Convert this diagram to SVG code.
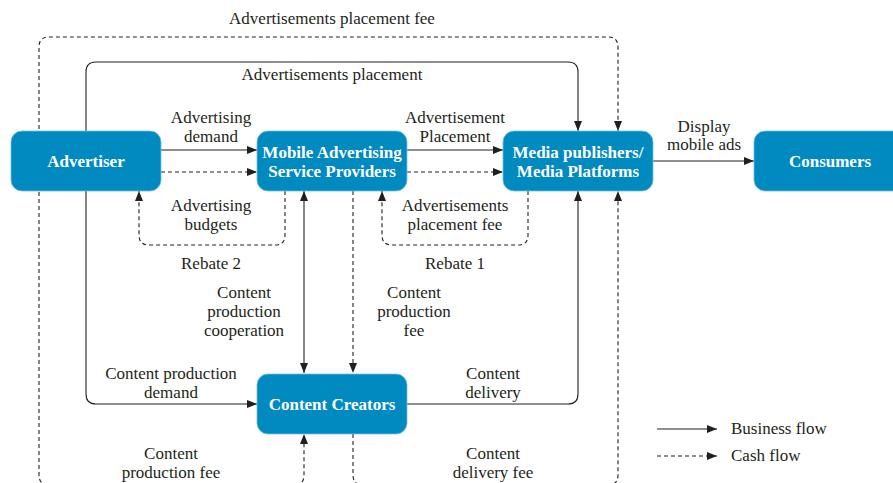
<svg xmlns="http://www.w3.org/2000/svg" width="893" height="483" viewBox="0 0 893 483">
<defs>
<marker id="ah" viewBox="0 0 10 8" refX="10" refY="4" markerWidth="10" markerHeight="8" markerUnits="userSpaceOnUse" orient="auto-start-reverse"><path d="M0,0 L10,4 L0,8 z" fill="#231f20"/></marker>
</defs>
<style>
.node rect{fill:#008abf;stroke:#6fc0e0;stroke-width:0.8}
.node text{font-weight:bold;font-size:17px;fill:#fff;text-anchor:middle}
.c{fill:none;stroke:#231f20;stroke-width:1.1;marker-end:url(#ah)}
.d{stroke-dasharray:4 3}
.lbl{font-size:17px;fill:#231f20;text-anchor:middle}
.lg{font-size:17px;fill:#231f20}
</style>
<g id="connectors">
<path class="c" d="M161,150 H257"/>
<path class="c d" d="M161,172 H257"/>
<path class="c" d="M407,150 H503"/>
<path class="c d" d="M407,172 H503"/>
<path class="c" d="M653,161 H754"/>
<path class="c d" d="M285,191 V235 Q285,245 275,245 H149 Q139,245 139,235 V191"/>
<path class="c d" d="M528,191 V235 Q528,245 518,245 H392 Q382,245 382,235 V191"/>
<path class="c" style="marker-start:url(#ah)" d="M304,191 V373"/>
<path class="c d" d="M353,191 V373"/>
<path class="c" d="M86,131 V72 Q86,62 96,62 H568 Q578,62 578,72 V131"/>
<path class="c d" d="M39,150 V47 Q39,37 49,37 H608 Q618,37 618,47 V131"/>
<path class="c d" d="M39,150 V475 Q39,485 49,485 H294 Q304,485 304,475 V434"/>
<path class="c" d="M86,191 V394 Q86,404 96,404 H257"/>
<path class="c" d="M407,404 H568 Q578,404 578,394 V191"/>
<path class="c d" d="M353,434 V475 Q353,485 363,485 H608 Q618,485 618,475 V191"/>
<path class="c" d="M657,429 H717"/>
<path class="c d" d="M657,456 H717"/>
</g>
<g font-family="Liberation Serif, Times New Roman, DejaVu Serif, serif">
<g id="advertiser" class="node"><rect x="11" y="131" width="150" height="60" rx="11"/><text x="86" y="167">Advertiser</text></g>
<g id="masp" class="node"><rect x="257" y="131" width="150" height="60" rx="11"/><text x="332" y="158">Mobile Advertising</text><text x="332" y="177">Service Providers</text></g>
<g id="media" class="node"><rect x="503" y="131" width="150" height="60" rx="11"/><text x="578" y="158">Media publishers/</text><text x="578" y="177">Media Platforms</text></g>
<g id="consumers" class="node"><rect x="754" y="131" width="152" height="60" rx="11"/><text x="830" y="167">Consumers</text></g>
<g id="creators" class="node"><rect x="257" y="374" width="150" height="60" rx="11"/><text x="332" y="410">Content Creators</text></g>
<g id="labels">
<text class="lbl" x="332" y="24">Advertisements placement fee</text>
<text class="lbl" x="332" y="80">Advertisements placement</text>
<text class="lbl" x="211" y="123">Advertising</text><text class="lbl" x="211" y="142">demand</text>
<text class="lbl" x="455" y="123">Advertisement</text><text class="lbl" x="455" y="142">Placement</text>
<text class="lbl" x="704" y="132">Display</text><text class="lbl" x="704" y="150">mobile ads</text>
<text class="lbl" x="211" y="211">Advertising</text><text class="lbl" x="211" y="230">budgets</text>
<text class="lbl" x="455" y="211">Advertisements</text><text class="lbl" x="455" y="230">placement fee</text>
<text class="lbl" x="211" y="269">Rebate 2</text>
<text class="lbl" x="455" y="269">Rebate 1</text>
<text class="lbl" x="244" y="298">Content</text><text class="lbl" x="244" y="317">production</text><text class="lbl" x="244" y="336">cooperation</text>
<text class="lbl" x="414" y="298">Content</text><text class="lbl" x="414" y="317">production</text><text class="lbl" x="414" y="336">fee</text>
<text class="lbl" x="171" y="379">Content production</text><text class="lbl" x="171" y="398">demand</text>
<text class="lbl" x="493" y="379">Content</text><text class="lbl" x="493" y="398">delivery</text>
<text class="lbl" x="171" y="459">Content</text><text class="lbl" x="171" y="478">production fee</text>
<text class="lbl" x="493" y="459">Content</text><text class="lbl" x="493" y="478">delivery fee</text>
<text class="lg" x="731" y="434">Business flow</text>
<text class="lg" x="731" y="461">Cash flow</text>
</g>
</g>
</svg>
